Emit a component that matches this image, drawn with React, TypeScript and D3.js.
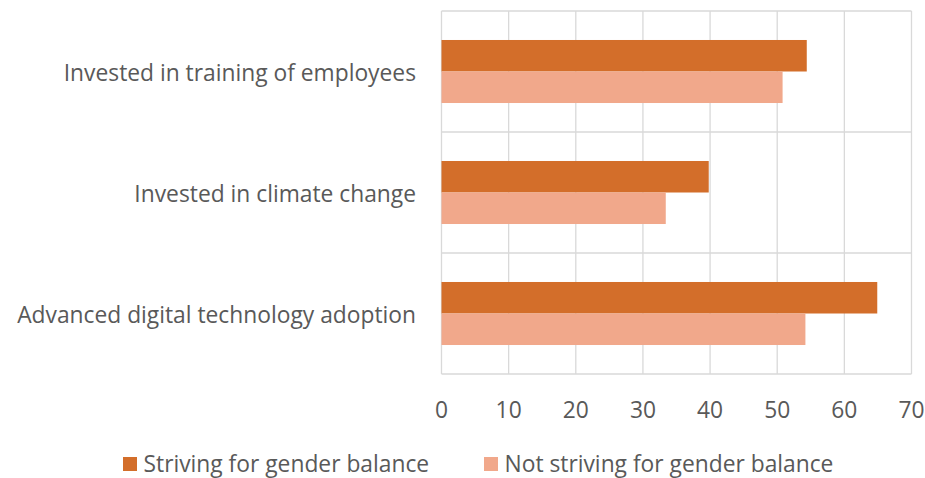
import React from "react";
import * as d3 from "d3";

const categories = [
  "Invested in training of employees",
  "Invested in climate change",
  "Advanced digital technology adoption",
];
const seriesNames = ["Striving for gender balance", "Not striving for gender balance"];
const striving = [54.4, 39.8, 64.9];
const notStriving = [50.8, 33.4, 54.2];
const xTicks = [0, 10, 20, 30, 40, 50, 60, 70];
const colors = ["#D36E2A", "#F1A88B"];

const W = 925;
const H = 478;
const M = { left: 441.5, right: 911.5, top: 11, bottom: 374 };
const FONT = "'Open Sans', 'Noto Sans', sans-serif";
const TEXT = "#595959";
const GRID = "#D9D9D9";

export default function App() {
  const x = d3.scaleLinear().domain([0, 70]).range([M.left, M.right]);
  const y = d3.scaleBand<string>().domain(categories).range([M.top, M.bottom]).paddingInner(0).paddingOuter(0);
  const inner = d3
    .scaleBand<string>()
    .domain(seriesNames)
    .range([0, y.bandwidth()])
    .paddingOuter(0.92)
    .paddingInner(0);
  const values = [striving, notStriving];
  const fs = 22.8;

  return (
    <svg width={W} height={H} style={{ position: "absolute", left: 0, top: 0 }}>
      <rect width={W} height={H} fill="#fff" />
      {xTicks.map((t) => (
        <line key={"g" + t} x1={x(t)} x2={x(t)} y1={M.top} y2={M.bottom} stroke={GRID} strokeWidth={1.3} />
      ))}
      {[0, 1, 2, 3].map((i) => {
        const yy = M.top + i * y.bandwidth();
        return <line key={"h" + i} x1={M.left} x2={M.right} y1={yy} y2={yy} stroke={GRID} strokeWidth={1.3} />;
      })}
      {categories.map((c, ci) =>
        seriesNames.map((s, si) => (
          <rect
            key={c + s}
            x={x(0)}
            y={(y(c) as number) + (inner(s) as number)}
            width={x(values[si][ci]) - x(0)}
            height={inner.bandwidth()}
            fill={colors[si]}
          />
        ))
      )}
      {categories.map((c) => (
        <text
          key={c}
          x={416}
          y={(y(c) as number) + y.bandwidth() / 2 + 1}
          textAnchor="end"
          dominantBaseline="central"
          fontFamily={FONT}
          fontSize={fs}
          fill={TEXT}
        >
          {c}
        </text>
      ))}
      {xTicks.map((t) => (
        <text
          key={"t" + t}
          x={x(t)}
          y={409}
          textAnchor="middle"
          dominantBaseline="central"
          fontFamily={FONT}
          fontSize={fs}
          fill={TEXT}
        >
          {t}
        </text>
      ))}
      <g>
        <rect x={123} y={457} width={14} height={14} fill={colors[0]} />
        <text x={143.5} y={463.5} dominantBaseline="central" fontFamily={FONT} fontSize={fs} fill={TEXT}>
          {seriesNames[0]}
        </text>
        <rect x={484} y={457} width={14} height={14} fill={colors[1]} />
        <text x={504.5} y={463.5} dominantBaseline="central" fontFamily={FONT} fontSize={fs} fill={TEXT}>
          {seriesNames[1]}
        </text>
      </g>
    </svg>
  );
}
